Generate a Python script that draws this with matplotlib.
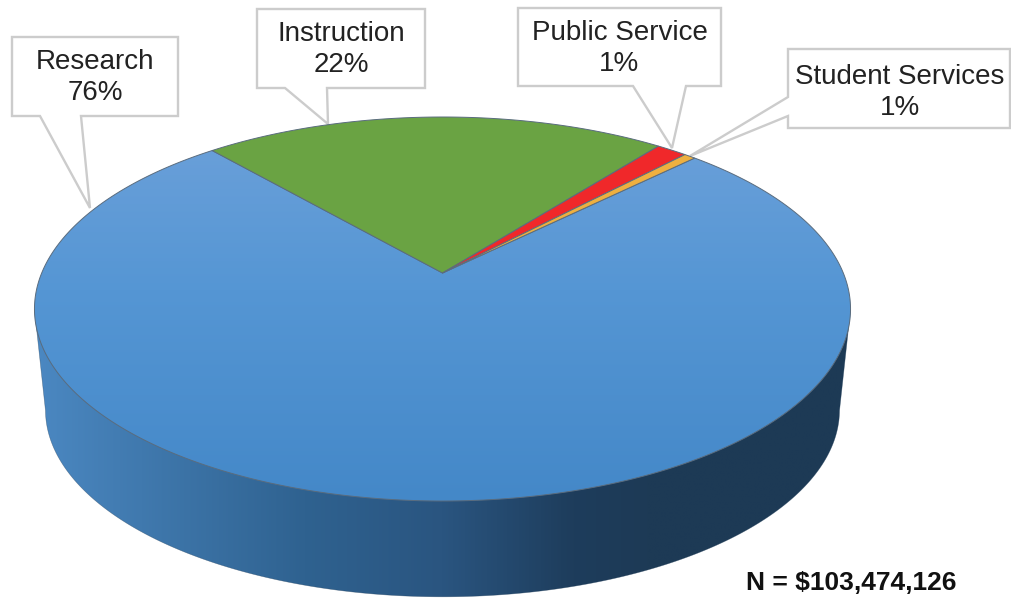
import numpy as np
import matplotlib
matplotlib.use('Agg')
import matplotlib.pyplot as plt
from matplotlib.colors import LinearSegmentedColormap
from matplotlib.patches import Polygon

plt.rcParams['font.family'] = ['Liberation Sans', 'DejaVu Sans']

# shares as drawn, in the order they run clockwise from the start angle
categories = ['Instruction', 'Public Service', 'Student Services', 'Research']
shares = [22.0, 1.45, 0.55, 76.0]
share_labels = ['22%', '1%', '1%', '76%']
colors = ['#6aa343', '#f0282a', '#eeb040', None]
total_label = 'N = $103,474,126'

start_angle = 131.0
W, H = 1012, 598

# perspective of the disc, in pixels
cx, apex_y = 442.5, 273.0
A, B, k = 400.8, 185.25, 0.1875
wall_scale, wall_drop, top_mid = 0.973, 101.0, 309.0


def project(t, r=1.0):
    u = r * np.cos(np.radians(t))
    v = r * np.sin(np.radians(t))
    return np.column_stack([cx + A * u / (1 + k * v), apex_y - B * v / (1 + k * v)])


def gradient(ax, stops, extent, horizontal, clip):
    cmap = LinearSegmentedColormap.from_list('g', stops)
    grad = np.linspace(0, 1, 512)
    grad = grad.reshape(1, -1) if horizontal else grad.reshape(-1, 1)
    im = ax.imshow(grad, cmap=cmap, extent=extent, aspect='auto', origin='upper', zorder=clip.get_zorder(),
                   interpolation='bilinear')
    im.set_clip_path(clip)


fig = plt.figure(figsize=(W / 100, H / 100), dpi=100)
ax = fig.add_axes([0, 0, 1, 1])

# callouts: box corners with the pointer spliced into the outline
callouts = [
    ('Research', [(12, 37), (178, 37), (178, 116), (81, 116), (90, 208), (40, 116), (12, 116)], (95, 77.5)),
    ('Instruction', [(257, 9), (425, 9), (425, 88), (327, 88), (328, 124), (285, 88), (257, 88)], (341, 49.5)),
    ('Public Service', [(518, 8), (721, 8), (721, 86), (686, 86), (672, 148), (633, 86), (518, 86)], (619.5, 48.5)),
    ('Student Services', [(788, 49), (1010, 49), (1010, 128), (788, 128), (788, 116), (690, 156), (788, 97)], (900, 92.5)),
]
for name, outline, pos in callouts:
    ax.add_patch(Polygon(outline, closed=True, fc='white', ec='#cccccc', lw=1.7, zorder=1))
    pct = share_labels[categories.index(name)]
    ax.text(pos[0], pos[1], name + '\n' + pct, ha='center', va='center', fontsize=20, color='#222222',
            linespacing=1.28, zorder=2)

# side wall
rim = project(np.linspace(0, 360, 721))
left = rim[rim[:, 0].argmin()]
right = rim[rim[:, 0].argmax()]
low = np.column_stack([cx + wall_scale * (rim[:, 0] - cx), top_mid + wall_drop + wall_scale * (rim[:, 1] - top_mid)])
lower = low[low[:, 1] >= top_mid + wall_drop]
lower = lower[np.argsort(lower[:, 0])]
wall = Polygon(np.vstack([left, lower, right]), closed=True, fc='none', ec='none', zorder=3)
ax.add_patch(wall)
gradient(ax, [(0.0, '#4b88c2'), (0.13, '#4079ae'), (0.33, '#2f6290'), (0.5, '#2a5580'), (0.66, '#1e3d5c'),
              (0.75, '#1d3a56'), (1.0, '#1d3a55')], (34, 851, 598, 300), True, wall)
ax.add_patch(Polygon(np.vstack([left, lower, right]), closed=True, fc='none', ec='#1d3a55', lw=0.4, alpha=0.5, zorder=3.1))

# top face, slices come from the shares
angle = start_angle
for share, color in zip(shares, colors):
    end = angle - share * 3.6
    arc = project(np.linspace(angle, end, max(int(share * 6), 8)))
    outline = np.vstack([[cx, apex_y], arc])
    if color is None:
        blue = Polygon(outline, closed=True, fc='none', ec='none', zorder=4)
        ax.add_patch(blue)
        gradient(ax, [(0.0, '#6da1da'), (0.45, '#5596d4'), (1.0, '#4488c8')], (34, 851, 501, 117), False, blue)
        ax.add_patch(Polygon(outline, closed=True, fc='none', ec='#5a6c7e', lw=0.7, zorder=4.5))
    else:
        ax.add_patch(Polygon(outline, closed=True, fc=color, ec='#5a6c7e', lw=0.7, zorder=5))
    angle = end

ax.text(746, 583, total_label, ha='left', va='center', fontsize=19, fontweight='bold', color='#111111', zorder=6)

ax.set_xlim(0, W)
ax.set_ylim(H, 0)
ax.axis('off')
fig.savefig('out.png', dpi=100, facecolor='white')
